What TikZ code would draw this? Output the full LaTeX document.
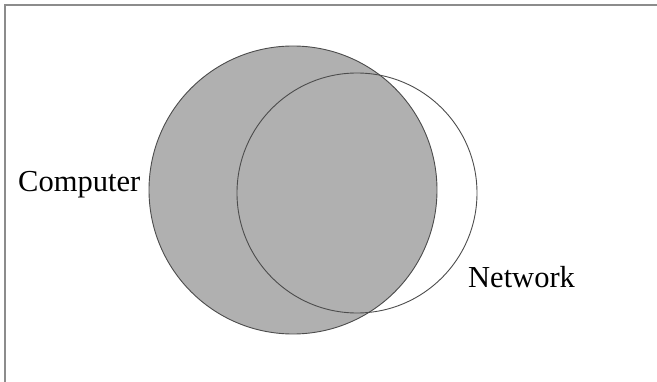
\documentclass[tikz,border=0pt]{standalone}
\usepackage{fontspec}
\setmainfont{Liberation Serif}
\begin{document}
\begin{tikzpicture}[x=1pt,y=-1pt,
  setc/.style={circle,draw=black!70,line width=0.9pt,inner sep=0pt},
  lbl/.style={font=\fontsize{30.5}{36}\selectfont,inner sep=0pt,anchor=base west},
  frame/.style={draw=black!45,line width=1.6pt}]
\useasboundingbox (0,0) rectangle (657,382);
\draw[frame] (5,382) -- (5,5) -- (657,5);
\node[setc,fill=black!31,minimum size=288pt] (comp) at (293,190) {};
\node[setc,minimum size=240pt] (net) at (357,193) {};
\node[lbl] (lcomp) at (18,192) {Computer};
\node[lbl] (lnet) at (468,288) {Network};
\end{tikzpicture}
\end{document}
